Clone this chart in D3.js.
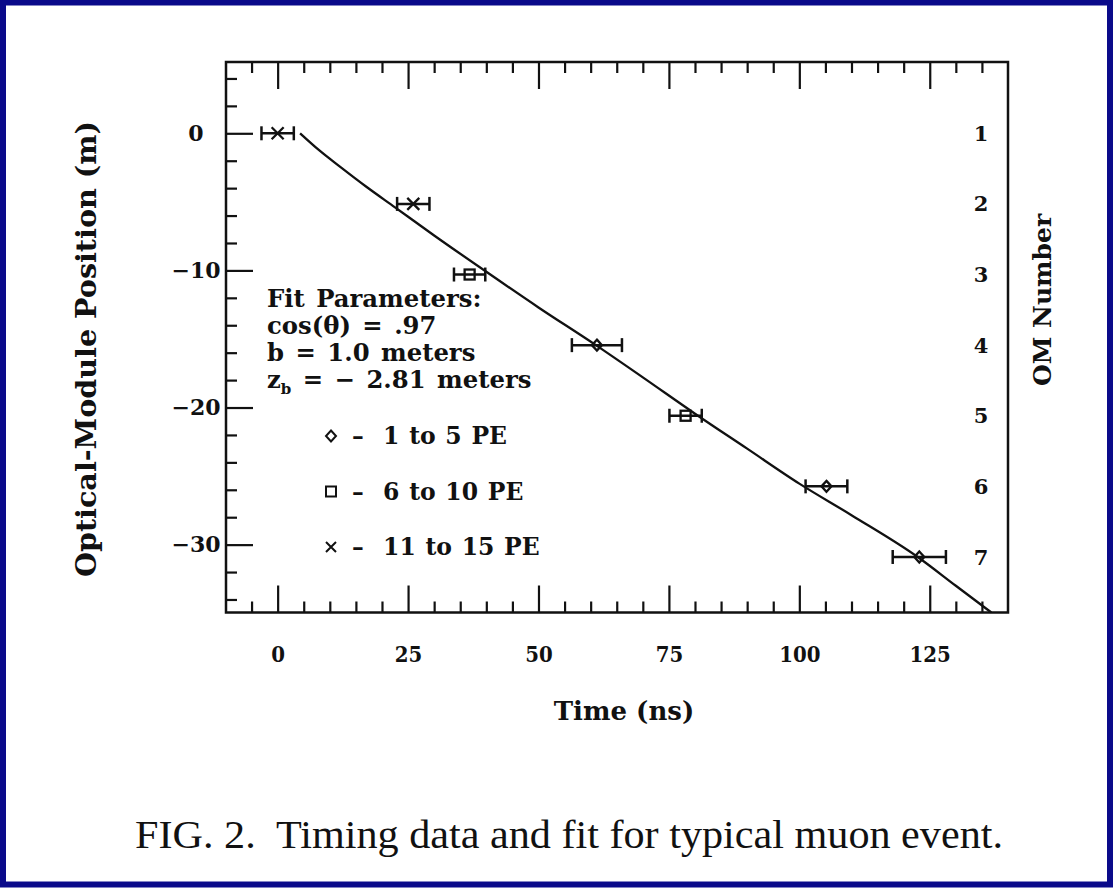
<!DOCTYPE html>
<html><head><meta charset="utf-8">
<script src="https://cdn.jsdelivr.net/npm/d3@7"></script>
<style>body{margin:0;background:#fff} svg{display:block}</style>
</head><body><svg id="c" width="1113" height="889"></svg>
<script>
// ---- data ----
const times = [0, 26.0, 36.8, 61.2, 78.2, 105.2, 123.0];
const positions = [0, -5.15, -10.3, -15.45, -20.6, -25.75, -30.9];
const timeErrors = [3.1, 3.1, 3.0, 4.8, 3.1, 4.0, 5.1];
const markerTypes = ["cross", "cross", "square", "diamond", "square", "diamond", "diamond"];
const omNumbers = ["1", "2", "3", "4", "5", "6", "7"];
const fitTimes = [4.3, 8, 12, 17, 22.5, 30, 40, 50, 61, 70, 80, 90, 100, 110, 122.7, 130, 136.8];
const fitPositions = [0.0, -1.25, -2.45, -3.9, -5.4, -7.45, -10.1, -12.7, -15.45, -17.8, -20.45, -23.0, -25.55, -27.85, -30.9, -33.0, -34.95];
const xMajorTicks = [0, 25, 50, 75, 100, 125];
const xMinorTicks = [-5, 5, 10, 15, 20, 30, 35, 40, 45, 55, 60, 65, 70, 80, 85, 90, 95, 105, 110, 115, 120, 130, 135];
const yMajorTicks = [0, -10, -20, -30];
const yMinorTicks = [4, 2, -2, -4, -6, -8, -12, -14, -16, -18, -22, -24, -26, -28, -32, -34];
const fitParamLines = ["Fit Parameters:", "cos(θ) = .97", "b = 1.0 meters", "z|b| = − 2.81 meters"];
const legendTypes = ["diamond", "square", "cross"];
const legendLabels = ["–  1 to 5 PE", "–  6 to 10 PE", "–  11 to 15 PE"];
const xTitle = "Time (ns)";
const yTitle = "Optical-Module Position (m)";
const rightTitle = "OM Number";
const caption = "FIG. 2.  Timing data and fit for typical muon event.";

// ---- layout ----
const svg = d3.select("#c");
const L = 226, R = 1008, T = 62, B = 612.5;
const x = d3.scaleLinear().domain([-9.9, 140]).range([L, R]);
const y = d3.scaleLinear().domain([5.2, -34.95]).range([T, B]);
const FONT = "'DejaVu Serif', serif";
const ink = "#111";

// outer blue border
svg.append("rect").attr("x", 3).attr("y", 2.5).attr("width", 1107).attr("height", 882)
  .attr("fill", "none").attr("stroke", "#0a0a8a").attr("stroke-width", 6);

function styleAxis(g, size) {
  g.select(".domain").remove();
  g.selectAll(".tick line").attr("stroke", ink).attr("stroke-width", 2.2);
  g.selectAll(".tick text").attr("fill", ink).attr("font-family", FONT)
    .attr("font-weight", "bold").attr("font-size", size || 20);
}
// bottom axis (ticks inward)
svg.append("g").attr("transform", `translate(0,${B})`)
  .call(d3.axisBottom(x).tickValues(xMajorTicks).tickSize(-27).tickPadding(33).tickFormat(d3.format("d")))
  .call(g => styleAxis(g, 23))
  .call(g => g.selectAll(".tick text").attr("transform", "scale(0.86,1)"));
svg.append("g").attr("transform", `translate(0,${B})`)
  .call(d3.axisBottom(x).tickValues(xMinorTicks).tickSize(-11).tickFormat("")).call(styleAxis);
// top axis
svg.append("g").attr("transform", `translate(0,${T})`)
  .call(d3.axisTop(x).tickValues(xMajorTicks).tickSize(-27).tickFormat("")).call(styleAxis);
svg.append("g").attr("transform", `translate(0,${T})`)
  .call(d3.axisTop(x).tickValues(xMinorTicks).tickSize(-11).tickFormat("")).call(styleAxis);
// left axis
svg.append("g").attr("transform", `translate(${L},0)`)
  .call(d3.axisLeft(y).tickValues(yMajorTicks).tickSize(-27).tickPadding(30)
    .tickFormat(d => d3.format("d")(d).replace("-", "−")))
  .call(g => styleAxis(g, 22))
  .call(g => g.selectAll(".tick text").attr("text-anchor", "middle"));
svg.append("g").attr("transform", `translate(${L},0)`)
  .call(d3.axisLeft(y).tickValues(yMinorTicks).tickSize(-11).tickFormat("")).call(styleAxis);

// frame
svg.append("rect").attr("x", L).attr("y", T).attr("width", R - L).attr("height", B - T)
  .attr("fill", "none").attr("stroke", ink).attr("stroke-width", 2.5);

// fit line
svg.append("clipPath").attr("id", "clip").append("rect")
  .attr("x", L).attr("y", T).attr("width", R - L).attr("height", B - T);
const fitData = fitTimes.map((t, i) => [t, fitPositions[i]]);
svg.append("path").datum(fitData).attr("clip-path", "url(#clip)")
  .attr("d", d3.line().x(d => x(d[0])).y(d => y(d[1])).curve(d3.curveMonotoneX))
  .attr("fill", "none").attr("stroke", ink).attr("stroke-width", 2.3);

// error bars + markers
const pts = times.map((t, i) => ({ t, z: positions[i], e: timeErrors[i], m: markerTypes[i] }));
const eg = svg.append("g").attr("stroke", ink).attr("stroke-width", 2.5).attr("fill", "none");
pts.forEach(p => {
  const cy = y(p.z);
  eg.append("line").attr("x1", x(p.t - p.e)).attr("x2", x(p.t + p.e)).attr("y1", cy).attr("y2", cy);
  eg.append("line").attr("x1", x(p.t - p.e)).attr("x2", x(p.t - p.e)).attr("y1", cy - 7).attr("y2", cy + 7);
  eg.append("line").attr("x1", x(p.t + p.e)).attr("x2", x(p.t + p.e)).attr("y1", cy - 7).attr("y2", cy + 7);
});
function marker(g, type, cx, cy, s) {
  if (type === "cross") {
    g.append("path").attr("d", `M${cx - s},${cy - s}L${cx + s},${cy + s}M${cx - s},${cy + s}L${cx + s},${cy - s}`);
  } else if (type === "square") {
    g.append("rect").attr("x", cx - s).attr("y", cy - s).attr("width", 2 * s).attr("height", 2 * s);
  } else {
    g.append("path").attr("d", `M${cx},${cy - s * 1.1}L${cx + s},${cy}L${cx},${cy + s * 1.1}L${cx - s},${cy}Z`);
  }
}
const mg = svg.append("g").attr("stroke", ink).attr("stroke-width", 2.3).attr("fill", "none");
pts.forEach(p => marker(mg, p.m, x(p.t), y(p.z), p.m === "cross" ? 6 : 5));

// OM numbers
svg.append("g").selectAll("text").data(omNumbers).join("text")
  .attr("x", 981).attr("y", (d, i) => y(positions[i])).attr("dy", "0.36em")
  .attr("text-anchor", "middle").attr("font-family", FONT).attr("font-weight", "bold")
  .attr("font-size", 21).attr("fill", ink).text(d => d);

// fit parameter text
const fp = svg.append("g").attr("font-family", FONT).attr("font-weight", "bold")
  .attr("font-size", 24.3).attr("word-spacing", 3).attr("fill", ink);
fitParamLines.forEach((s, i) => {
  const t = fp.append("text").attr("x", 267).attr("y", 307 + i * 27);
  const parts = s.split("|");
  if (parts.length === 3) {
    t.append("tspan").text(parts[0]);
    t.append("tspan").attr("font-size", 15).attr("dy", 6).text(parts[1]);
    t.append("tspan").attr("dy", -6).text(parts[2]);
  } else t.text(s);
});

// legend
const lg = svg.append("g");
const lgm = lg.append("g").attr("stroke", ink).attr("stroke-width", 2).attr("fill", "none");
legendTypes.forEach((m, i) => {
  const by = 444 + i * 55.5;
  marker(lgm, m, 331, by - 8, 5);
  lg.append("text").attr("x", 352).attr("y", by).attr("font-family", FONT).attr("font-weight", "bold")
    .attr("font-size", 23.5).attr("word-spacing", 1.5).attr("fill", ink).attr("xml:space", "preserve").text(legendLabels[i]);
});

// titles
svg.append("text").attr("x", 624).attr("y", 720).attr("text-anchor", "middle")
  .attr("font-family", FONT).attr("font-weight", "bold").attr("font-size", 26).attr("fill", ink).text(xTitle);
svg.append("text").attr("transform", "translate(96,349) rotate(-90)").attr("text-anchor", "middle")
  .attr("font-family", FONT).attr("font-weight", "bold").attr("font-size", 27)
  .attr("textLength", 456).attr("lengthAdjust", "spacingAndGlyphs").attr("fill", ink).text(yTitle);
svg.append("text").attr("transform", "translate(1051,300) rotate(-90)").attr("text-anchor", "middle")
  .attr("font-family", FONT).attr("font-weight", "bold").attr("font-size", 25).attr("fill", ink).text(rightTitle);
svg.append("text").attr("x", 569).attr("y", 848).attr("text-anchor", "middle")
  .attr("font-family", "'Liberation Serif', 'Times New Roman', serif").attr("font-size", 40)
  .attr("textLength", 868).attr("lengthAdjust", "spacingAndGlyphs")
  .attr("fill", ink).attr("xml:space", "preserve").text(caption);
</script></body></html>
